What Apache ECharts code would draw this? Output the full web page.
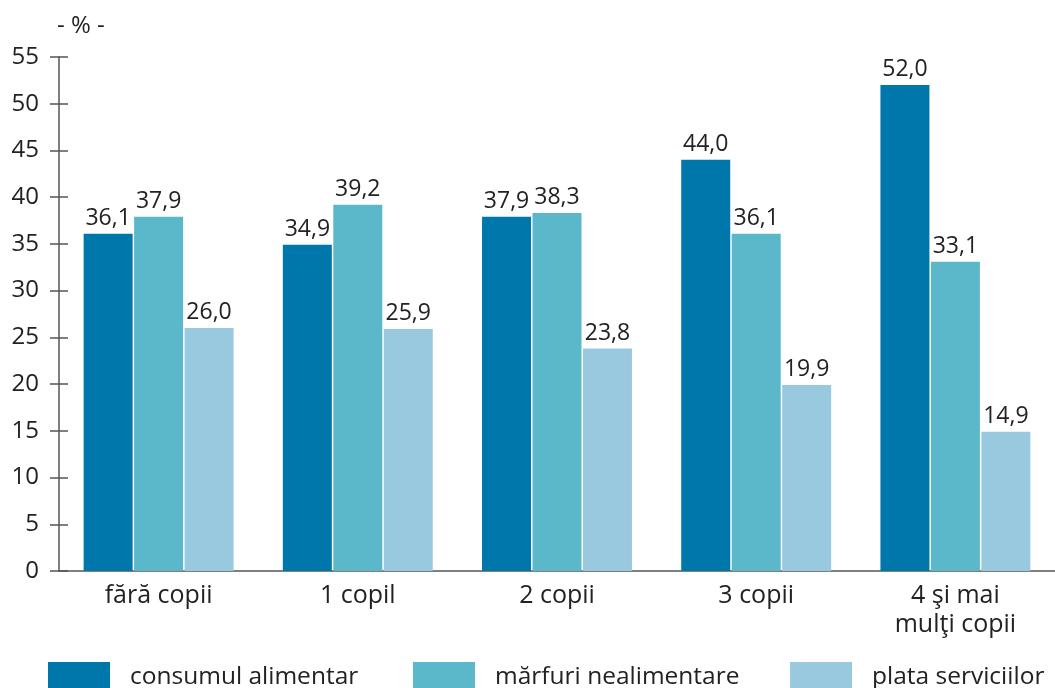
<!DOCTYPE html>
<html>
<head>
<meta charset="utf-8">
<script src="https://cdn.jsdelivr.net/npm/echarts@6/dist/echarts.min.js"></script>
<style>
  html, body { margin: 0; padding: 0; background: #fff; }
  #chart { width: 1055px; height: 688px; }
</style>
</head>
<body>
<div id="chart"></div>
<script>
const categories = ['fără copii', '1 copil', '2 copii', '3 copii', '4 şi mai\nmulţi copii']
const seriesNames = ['consumul alimentar', 'mărfuri nealimentare', 'plata serviciilor']
const alimentar = [36.1, 34.9, 37.9, 44.0, 52.0]
const nealimentare = [37.9, 39.2, 38.3, 36.1, 33.1]
const servicii = [26.0, 25.9, 23.8, 19.9, 14.9]
const colors = ['#0077ab', '#5bb8cb', '#99c9df']

const font = 'Open Sans'
const axisColor = '#555'
const textColor = '#222'

const myChart = echarts.init(document.getElementById('chart'))

function fmt(p) {
  return p.value.toFixed(1).replace('.', ',')
}

function createSeries() {
  return [alimentar, nealimentare, servicii].map((data, i) => ({
    name: seriesNames[i],
    type: 'bar',
    data,
    barWidth: 49,
    barGap: '3%',
    itemStyle: { color: colors[i] },
    label: {
      show: true,
      position: 'top',
      distance: 4,
      formatter: fmt,
      color: textColor,
      fontFamily: font,
      fontSize: 23
    }
  }))
}

// one legend per item so each sits where it does in the picture
const legendLeft = [48, 413, 790]
const legends = seriesNames.map((name, i) => ({
  data: [name],
  left: legendLeft[i],
  top: 662,
  padding: 0,
  itemWidth: 62,
  itemHeight: 30,
  icon: 'rect',
  selectedMode: false,
  textStyle: {
    color: textColor,
    fontFamily: font,
    fontSize: 24.5,
    padding: [0, 0, 0, 15]
  }
}))

const option = {
  animation: false,
  textStyle: { fontFamily: font },
  legend: legends,
  grid: { left: 59, top: 57, width: 1000, bottom: 117, containLabel: false },
  graphic: [{
    type: 'text',
    left: 57,
    top: 14,
    style: { text: '- % -', fontFamily: font, fontSize: 24, fill: textColor }
  }],
  xAxis: [
    {
      type: 'category',
      data: categories,
      axisLine: { lineStyle: { color: axisColor, width: 1.5 } },
      axisTick: { length: 6, lineStyle: { color: axisColor, width: 1.5 } },
      axisLabel: {
        color: textColor,
        fontFamily: font,
        fontSize: 25,
        lineHeight: 29,
        margin: 10
      }
    },
    {
      // inner half of the crossing ticks
      type: 'category',
      data: categories,
      position: 'bottom',
      axisLine: { show: false },
      axisTick: { inside: true, length: 6, lineStyle: { color: axisColor, width: 1.5 } },
      axisLabel: { show: false }
    }
  ],
  yAxis: [
    {
      type: 'value',
      min: 0,
      max: 55,
      interval: 5,
      axisLine: { show: true, lineStyle: { color: axisColor, width: 1.5 } },
      axisTick: { show: true, length: 9, lineStyle: { color: axisColor, width: 1.5 } },
      axisLabel: {
        color: textColor,
        fontFamily: font,
        fontSize: 24,
        margin: 20
      },
      splitLine: { show: false }
    },
    {
      type: 'value',
      min: 0,
      max: 55,
      interval: 5,
      position: 'left',
      axisLine: { show: false },
      axisTick: { show: true, inside: true, length: 9, lineStyle: { color: axisColor, width: 1.5 } },
      axisLabel: { show: false },
      splitLine: { show: false }
    }
  ],
  series: createSeries()
}

myChart.setOption(option)
</script>
</body>
</html>
